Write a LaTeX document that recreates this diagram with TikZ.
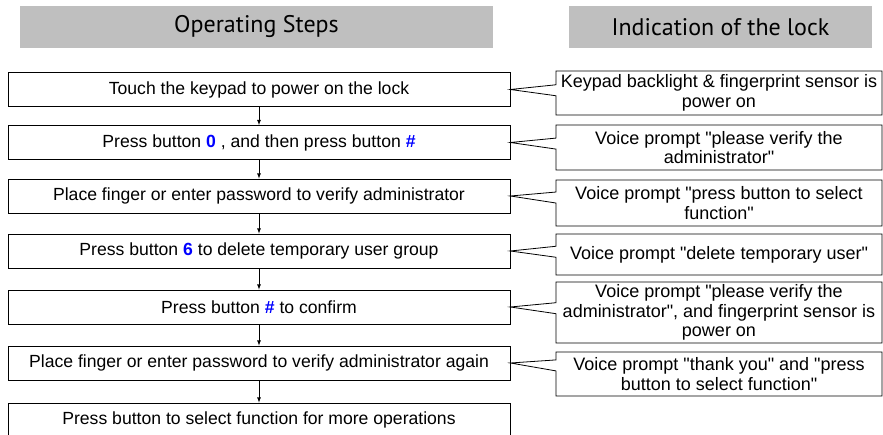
\documentclass[tikz,border=0pt]{standalone}
\usepackage{fontspec}
\setmainfont{Liberation Sans}
\newfontfamily\headfont{PT Sans}
\usetikzlibrary{arrows}
\usetikzlibrary{positioning}
\usetikzlibrary{chains}
\usetikzlibrary{shapes.callouts}
\definecolor{headgray}{RGB}{191,191,191}
\definecolor{keyblue}{RGB}{0,0,255}
\newcommand{\keybtn}[1]{\textcolor{keyblue}{\bfseries #1}}
\newcommand{\qmark}{\textquotedbl}
\newcommand{\stepnode}[3]{\node(#1)[stepbox] at (259,#2) {#3}}
\newcommand{\hintnode}[5]{\node(#1)[hint,minimum height=#3,callout absolute pointer={(#4.east)}] at (719,#2) {#5}}

\begin{document}
\begin{tikzpicture}[
        start chain,
        x=1pt, y=-1pt,
        every node/.style={font=\fontsize{17.6}{19.5}\selectfont},
        head/.style={rectangle,fill=headgray,minimum height=42pt,
                     font=\headfont\fontsize{24}{28}\selectfont},
        stepbox/.style={rectangle,draw=black,line width=0.8pt,
                        minimum width=502pt,minimum height=34pt,inner sep=1pt},
        hint/.style={rectangle callout,draw=black,line width=0.8pt,
                     text width=318pt,inner xsep=4pt,inner ysep=1pt,align=flush center,
                     font=\fontsize{18}{19.5}\selectfont,
                     callout pointer width=11pt}
      ]
      \useasboundingbox (0,0) rectangle (883,435);
      \node(headsteps)[head,minimum width=473pt] at (256.5,27) {Operating Steps};
      \node(headlock)[head,minimum width=303pt] at (720.5,27) {Indication of the lock};

      \stepnode{s1}{89.5}{Touch the keypad to power on the lock};
      \stepnode{s2}{142.5}{Press button \keybtn{0} , and then press button \keybtn{\#}};
      \stepnode{s3}{196}{Place finger or enter password to verify administrator};
      \stepnode{s4}{251}{Press button \keybtn{6} to delete temporary user group};
      \stepnode{s5}{307}{Press button \keybtn{\#} to confirm};
      \stepnode{s6}{363}{Place finger or enter password to verify administrator again};
      \stepnode{s7}{420}{Press button to select function for more operations};

      \hintnode{h1}{93}{44pt}{s1}{Keypad backlight \& fingerprint sensor is\\ power on};
      \hintnode{h2}{147.5}{45pt}{s2}{Voice prompt \qmark please verify the\\ administrator\qmark};
      \hintnode{h3}{203}{46pt}{s3}{Voice prompt \qmark press button to select\\ function\qmark};
      \hintnode{h4}{254.5}{41pt}{s4}{Voice prompt \qmark delete temporary user\qmark};
      \hintnode{h5}{312.5}{61pt}{s5}{Voice prompt \qmark please verify the\\ administrator\qmark, and fingerprint sensor is\\ power on};
      \hintnode{h6}{374}{44pt}{s6}{Voice prompt \qmark thank you\qmark{} and \qmark press\\ button to select function\qmark};

      {
        [start chain] \chainin(s1);\chainin(s2) [join=by {-latex,line width=0.8pt}];\chainin(s3) [join=by {-latex,line width=0.8pt}];\chainin(s4) [join=by {-latex,line width=0.8pt}];\chainin(s5) [join=by {-latex,line width=0.8pt}];\chainin(s6) [join=by {-latex,line width=0.8pt}];\chainin(s7) [join=by {-latex,line width=0.8pt}];
      }

    \end{tikzpicture}
\end{document}
